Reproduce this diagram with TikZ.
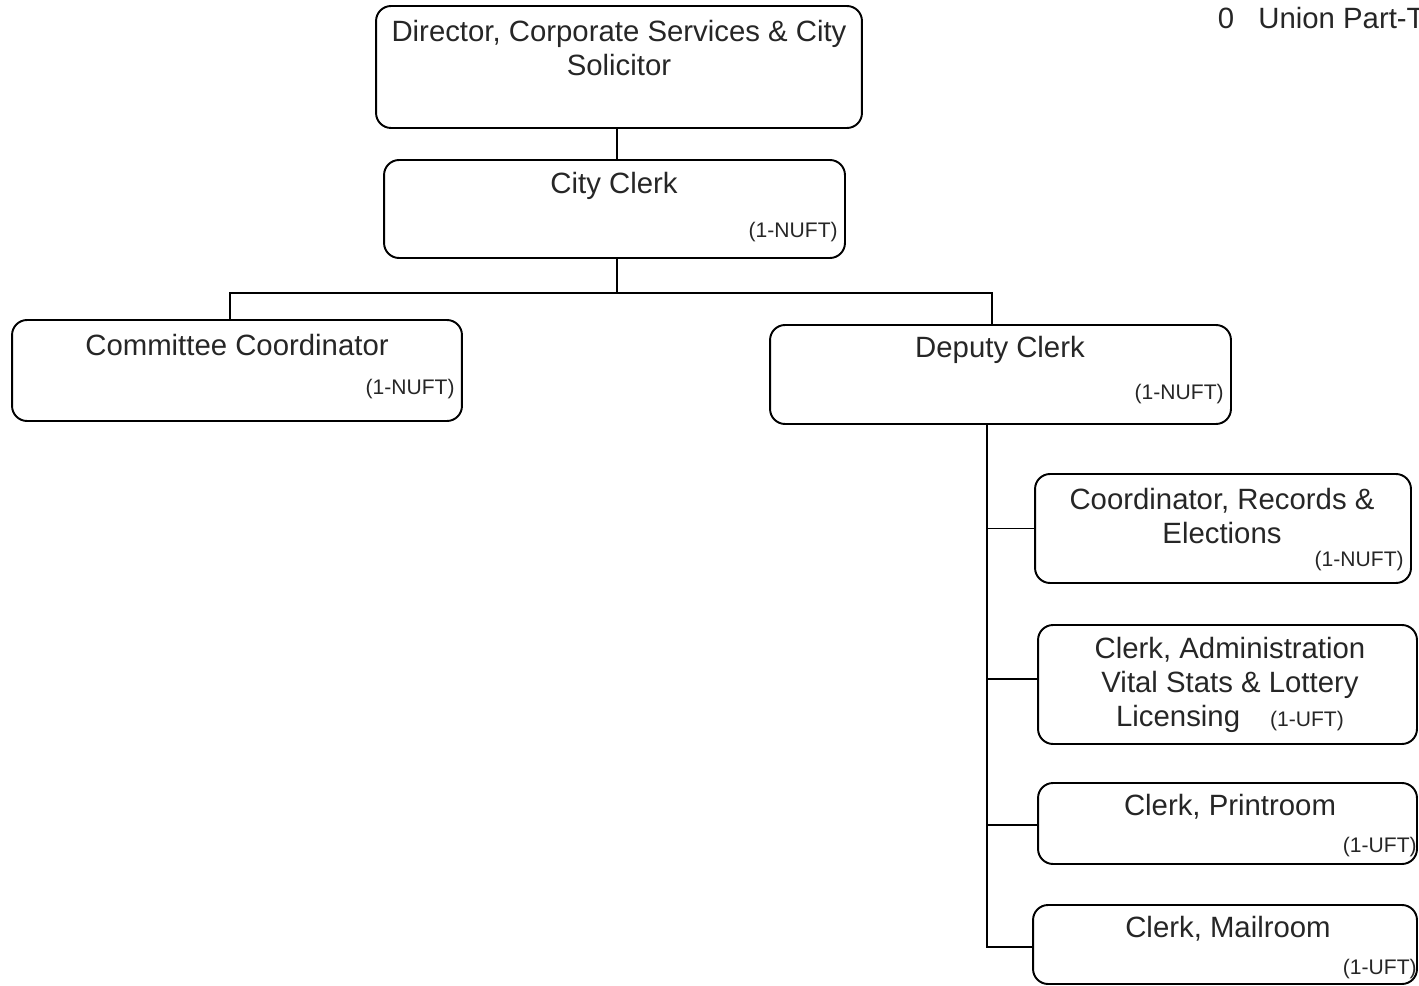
\documentclass[tikz,border=0pt]{standalone}
\usepackage{fontspec}
\setmainfont{Liberation Sans}
\usetikzlibrary{calc}
\begin{document}
\begin{tikzpicture}[x=0.02cm,y=-0.02cm,
 box/.style={draw, line width=1.1pt, rounded corners=0.3cm, inner sep=0pt},
 ttl/.style={font=\fontsize{16.7}{19.4}\selectfont, align=center, inner sep=0pt, text=black!85},
 tag/.style={font=\fontsize{12}{14}\selectfont, anchor=east, inner sep=0pt, text=black!85},
 conn/.style={line width=1.1pt}]
\useasboundingbox (0,0) rectangle (1419,986);
\clip (0,0) rectangle (1419,986);
% boxes
\node[box, minimum width=9.72cm, minimum height=2.44cm] (dir) at (619,67) {};
\node[box, minimum width=9.22cm, minimum height=1.96cm] (cc) at (614.5,209) {};
\node[box, minimum width=9.0cm, minimum height=2.02cm] (com) at (237,370.5) {};
\node[box, minimum width=9.22cm, minimum height=1.98cm] (dep) at (1000.5,374.5) {};
\node[box, minimum width=7.52cm, minimum height=2.18cm] (cre) at (1223,528.5) {};
\node[box, minimum width=7.58cm, minimum height=2.38cm] (adm) at (1227.5,684.5) {};
\node[box, minimum width=7.58cm, minimum height=1.62cm] (prt) at (1227.5,823.5) {};
\node[box, minimum width=7.68cm, minimum height=1.58cm] (mail) at (1225,944.5) {};
% texts
\node[ttl] (tdir) at (619,48) {Director, Corporate Services \& City\\Solicitor};
\node[ttl] (tcc) at (614,186) {City Clerk};
\node[tag] (gcc) at (838,232) {(1-NUFT)};
\node[ttl] (tcom) at (237,345) {Committee Coordinator};
\node[tag] (gcom) at (455,389) {(1-NUFT)};
\node[ttl] (tdep) at (1000,350) {Deputy Clerk};
\node[tag] (gdep) at (1224,394) {(1-NUFT)};
\node[ttl] (tcre) at (1222,516) {Coordinator, Records \&\\Elections};
\node[tag] (gcre) at (1404,561) {(1-NUFT)};
\node[ttl] (tadm) at (1230,685) {Clerk, Administration\\Vital Stats \& Lottery\\Licensing\hspace{0.6cm}{\fontsize{12}{14}\selectfont(1-UFT)}};
\node[ttl] (tprt) at (1230,807) {Clerk, Printroom};
\node[tag] (gprt) at (1417,847) {(1-UFT)};
\node[ttl] (tmail) at (1228,929) {Clerk, Mailroom};
\node[tag] (gmail) at (1417,969) {(1-UFT)};
\node[ttl] (zero) at (1226,18) {0};
\node[ttl, anchor=west] (union) at (1258,18) {Union Part-T};
% connectors
\draw[conn] ($(dir.south)+(-2,0)$) -- ($(cc.north)+(2.5,0)$);
\coordinate (j) at (617,293);
\draw[conn] ($(cc.south)+(2.5,0)$) -- (j);
\draw[conn] (j) -| ($(com.north)+(-7,0)$);
\draw[conn] (j) -| ($(dep.north)+(-8.5,0)$);
\coordinate (sp) at ($(dep.south)+(-13.5,0)$);
\draw[conn] (sp) |- (cre.west);
\draw[conn] (sp) |- ($(adm.west)+(0,-5.5)$);
\draw[conn] (sp) |- ($(prt.west)+(0,1.5)$);
\draw[conn] (sp) |- ($(mail.west)+(0,2.5)$);
\end{tikzpicture}
\end{document}
